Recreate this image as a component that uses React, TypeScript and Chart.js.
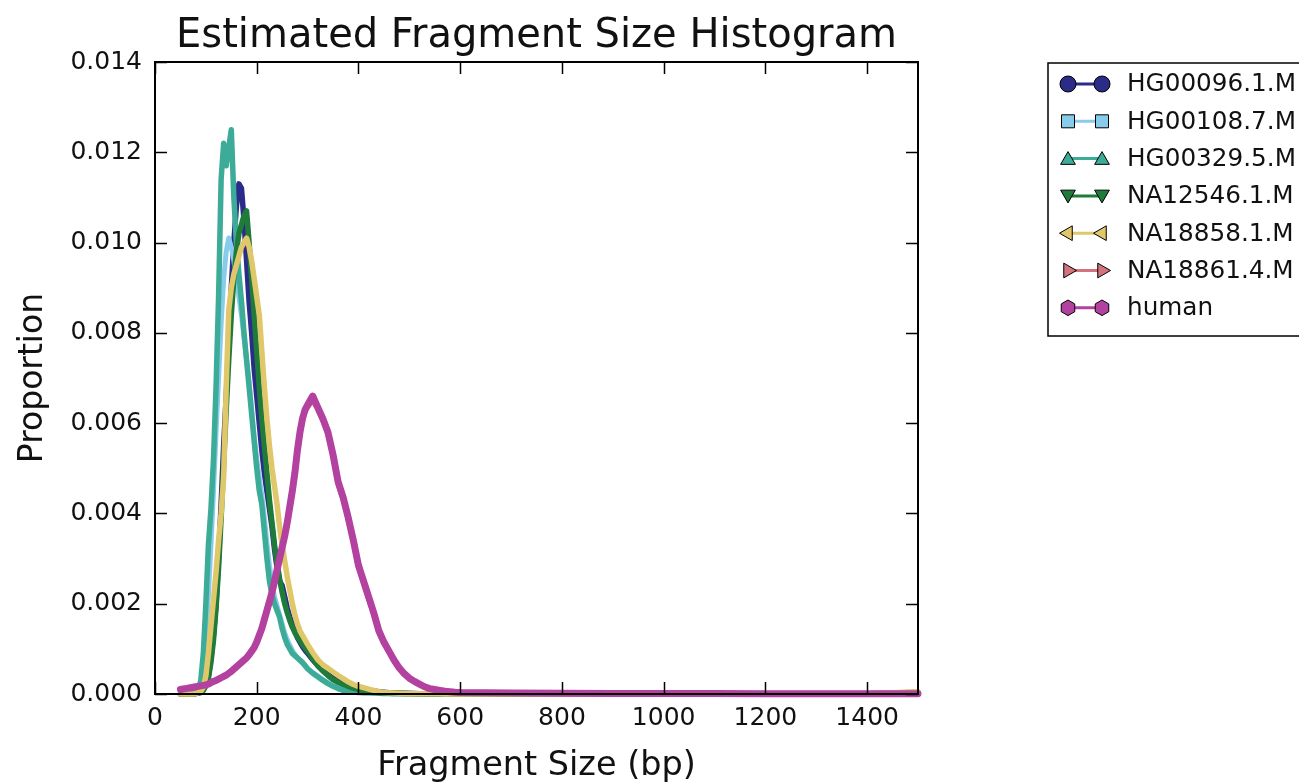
import React, { useEffect, useRef } from 'react';
import { Chart, registerables } from 'chart.js';

Chart.register(...registerables);

// Fragment sizes (bp) at which the histogram curves are sampled
const FRAGMENT_BP = [
  50, 55, 60, 65, 70, 75, 80, 85, 90, 95,
  100, 105, 110, 115, 120, 125, 130, 135, 140, 145,
  150, 155, 160, 165, 170, 175, 180, 185, 190, 195,
  200, 205, 210, 215, 220, 225, 230, 235, 240, 245,
  250, 255, 260, 265, 270, 275, 280, 285, 290, 295,
  300,
  310, 320, 330, 340, 350, 360, 370, 380, 390, 400,
  410, 420, 430, 440, 450, 460, 470, 480, 490, 500,
  510, 520, 530, 540, 550, 560, 570, 580, 590, 600,
  700, 800, 900, 1000, 1100, 1200, 1300, 1400, 1450, 1500,
];

// Proportions, in units of 1e-4
const HG00096_1_M = [
  0, 0, 0, 0, 0, 0, 0.1, 0.2, 0.4, 1,
  2, 4, 8, 13, 20, 30, 42, 55, 66, 78,
  90, 100, 108, 113, 112, 105, 96, 87, 80, 72,
  66, 60, 54, 49, 45, 41, 37, 32, 28, 25,
  24, 21.5, 19, 17, 15.5, 14, 12.5, 11.5, 10.5, 9.7,
  9,
  7.6, 6.3, 5.2, 4.3, 3.5, 2.8, 2.3, 1.8, 1.5, 1.2,
  1, 0.8, 0.65, 0.5, 0.4, 0.3, 0.25, 0.2, 0.15, 0.12,
  0.1, 0.08, 0.07, 0.06, 0.05, 0.04, 0.03, 0.03, 0.02, 0.02,
  0.01, 0.01, 0, 0, 0, 0, 0, 0, 0, 0,
];

const HG00108_7_M = [
  0, 0, 0, 0, 0.1, 0.2, 0.3, 0.6, 1.5, 5,
  12, 22, 33, 45, 58, 70, 82, 92, 98, 101,
  99, 96, 92, 88, 84, 79, 74, 69, 63, 57,
  52, 48, 44, 39, 33.5, 28.5, 24.5, 21.5, 19.5, 17.5,
  15.5, 13.5, 12, 10.8, 9.7, 8.8, 8, 7.4, 6.8, 6.2,
  5.6,
  4.8, 4, 3.2, 2.5, 1.9, 1.4, 1, 0.7, 0.5, 0.4,
  0.3, 0.25, 0.2, 0.15, 0.12, 0.1, 0.08, 0.06, 0.05, 0.04,
  0.03, 0.03, 0.02, 0.02, 0.02, 0.02, 0.01, 0.01, 0.01, 0.01,
  0.01, 0, 0, 0, 0, 0, 0, 0, 0, 0,
];

const HG00329_5_M = [
  0, 0, 0, 0, 0.1, 0.2, 0.4, 1, 3, 9,
  20, 33, 41, 52, 68, 88, 114, 122, 117, 121,
  125, 110, 100, 93, 87, 80, 74, 68, 62, 56,
  50, 45, 42, 36, 30, 25, 22, 20, 18.5, 17,
  14.5, 12.5, 11, 10, 9, 8.5, 8, 7.5, 7, 6.3,
  5.6,
  4.6, 3.8, 3, 2.3, 1.7, 1.2, 0.8, 0.6, 0.45, 0.35,
  0.3, 0.25, 0.2, 0.15, 0.12, 0.1, 0.08, 0.06, 0.05, 0.04,
  0.03, 0.03, 0.02, 0.02, 0.02, 0.02, 0.01, 0.01, 0.01, 0.01,
  0.01, 0, 0, 0, 0, 0, 0, 0, 0, 0,
];

const NA12546_1_M = [
  0, 0, 0, 0, 0, 0, 0.1, 0.2, 0.3, 0.8,
  1.8, 3.5, 7, 12, 19, 28, 39, 51, 63, 74,
  84, 92, 98, 102, 104, 106, 107, 100, 92, 84,
  76, 68, 61, 55, 49, 43, 38, 33, 29, 25.5,
  22.5, 20, 18, 16.3, 14.8, 13.6, 12.6, 11.8, 11, 10.2,
  9.5,
  7.8, 6.3, 5.1, 4.1, 3.2, 2.6, 2.1, 1.7, 1.3, 1,
  0.75, 0.6, 0.45, 0.35, 0.3, 0.25, 0.2, 0.15, 0.12, 0.1,
  0.08, 0.07, 0.06, 0.05, 0.04, 0.03, 0.03, 0.02, 0.02, 0.02,
  0.01, 0.01, 0.01, 0, 0, 0, 0, 0.05, 0.2, 0.4,
];

const NA18858_1_M = [
  0, 0, 0, 0, 0, 0, 0.1, 0.3, 0.6, 1.5,
  4, 9, 15, 21, 27, 34, 40, 48, 68, 85,
  90, 93, 95, 97, 99, 100, 101, 99, 96, 92,
  88, 84, 76, 68, 61, 55, 50, 46, 42, 37,
  33, 29.5, 26, 23, 20, 17.5, 15.5, 14, 13, 12,
  11,
  9.2, 7.6, 6.5, 5.7, 4.9, 4.1, 3.4, 2.7, 2.1, 1.7,
  1.4, 1.1, 0.8, 0.5, 0.35, 0.25, 0.2, 0.15, 0.1, 0.08,
  0.06, 0.05, 0.04, 0.04, 0.03, 0.03, 0.02, 0.02, 0.02, 0.02,
  0.01, 0.01, 0.01, 0.01, 0.01, 0, 0, 0.05, 0.3, 0.5,
];

const NA18861_4_M = [
  0.9, 1, 1.1, 1.2, 1.3, 1.4, 1.5, 1.6, 1.7, 1.8,
  1.9, 2.1, 2.4, 2.7, 2.9, 3.2, 3.5, 3.8, 4.1, 4.5,
  4.9, 5.4, 5.9, 6.4, 6.9, 7.4, 7.9, 8.6, 9.4, 10.2,
  11.3, 12.8, 14.3, 16.3, 18.3, 20.3, 22.3, 24.7, 27.2, 29.7,
  32.2, 34.7, 37.6, 41, 44.5, 48.4, 53.5, 57.5, 60.5, 62.5,
  63.5,
  65, 63, 60.5, 57.5, 52.5, 46.5, 43, 38.5, 33.5, 28,
  24.5, 21, 17.6, 13.8, 11.2, 9.3, 7.3, 5.6, 4.4, 3.4,
  2.7, 2.1, 1.5, 1.1, 0.9, 0.7, 0.55, 0.45, 0.35, 0.3,
  0.18, 0.13, 0.1, 0.09, 0.08, 0.07, 0.07, 0.06, 0.05, 0.04,
];

const HUMAN = [
  1, 1.1, 1.2, 1.3, 1.4, 1.5, 1.6, 1.7, 1.8, 1.9,
  2, 2.2, 2.5, 2.8, 3, 3.3, 3.6, 3.9, 4.2, 4.6,
  5, 5.5, 6, 6.5, 7, 7.5, 8, 8.7, 9.5, 10.3,
  11.5, 13, 14.5, 16.5, 18.5, 20.5, 22.5, 25, 27.5, 30,
  32.5, 35, 38, 41.5, 45, 49, 54, 58, 61, 63,
  64,
  66, 63.5, 61, 58, 53, 47, 43.5, 39, 34, 28.5,
  25, 21.5, 18, 14, 11.5, 9.5, 7.5, 5.8, 4.5, 3.5,
  2.8, 2.2, 1.6, 1.2, 1, 0.8, 0.6, 0.5, 0.4, 0.35,
  0.2, 0.15, 0.12, 0.1, 0.1, 0.08, 0.08, 0.07, 0.06, 0.05,
];

const SERIES_LABELS = ['HG00096.1.M', 'HG00108.7.M', 'HG00329.5.M', 'NA12546.1.M', 'NA18858.1.M', 'NA18861.4.M', 'human'];
const SERIES_VALUES = [HG00096_1_M, HG00108_7_M, HG00329_5_M, NA12546_1_M, NA18858_1_M, NA18861_4_M, HUMAN];
const SERIES_COLORS = ['#2b2b8a', '#87cdeb', '#3cac98', '#1e7b3a', '#e0c76a', '#d3737e', '#b3419f'];
const SERIES_MARKERS = ['circle', 'square', 'triUp', 'triDown', 'triLeft', 'triRight', 'hexagon'];
const SERIES_WIDTHS = [5.5, 5, 5.5, 5.5, 5.5, 5, 7];

const X_TICKS = [0, 200, 400, 600, 800, 1000, 1200, 1400];
const Y_TICKS = [0, 0.002, 0.004, 0.006, 0.008, 0.01, 0.012, 0.014];

const TITLE = 'Estimated Fragment Size Histogram';
const X_LABEL = 'Fragment Size (bp)';
const Y_LABEL = 'Proportion';

const FONT = '"DejaVu Sans", sans-serif';

function drawMarker(ctx: CanvasRenderingContext2D, kind: string, x: number, y: number, color: string) {
  ctx.save();
  ctx.fillStyle = color;
  ctx.strokeStyle = '#000';
  ctx.lineWidth = 1;
  ctx.beginPath();
  const r = 8;
  if (kind === 'circle') {
    ctx.arc(x, y, r, 0, Math.PI * 2);
  } else if (kind === 'square') {
    ctx.rect(x - 6.5, y - 6.5, 13, 13);
  } else if (kind === 'hexagon') {
    for (let i = 0; i < 6; i++) {
      const a = Math.PI / 2 + (i * Math.PI) / 3;
      const px = x + 7.8 * Math.cos(a);
      const py = y - 7.8 * Math.sin(a);
      if (i === 0) ctx.moveTo(px, py); else ctx.lineTo(px, py);
    }
    ctx.closePath();
  } else {
    let rot = 0;
    if (kind === 'triDown') rot = Math.PI;
    if (kind === 'triLeft') rot = Math.PI / 2;
    if (kind === 'triRight') rot = -Math.PI / 2;
    for (let i = 0; i < 3; i++) {
      const a = Math.PI / 2 + rot + (i * 2 * Math.PI) / 3;
      const px = x + 8.5 * Math.cos(a);
      const py = y - 8.5 * Math.sin(a) + (kind === 'triUp' ? 1.5 : kind === 'triDown' ? -1.5 : 0);
      if (i === 0) ctx.moveTo(px, py); else ctx.lineTo(px, py);
    }
    ctx.closePath();
  }
  ctx.fill();
  ctx.stroke();
  ctx.restore();
}

const decorPlugin = {
  id: 'decor',
  afterDatasetsDraw(chart: any) {
    const { ctx, chartArea: a, scales } = chart;
    ctx.save();
    // frame
    ctx.strokeStyle = '#000';
    ctx.lineWidth = 2;
    ctx.strokeRect(a.left, a.top, a.right - a.left, a.bottom - a.top);
    // inward ticks on all sides
    ctx.lineWidth = 1.5;
    const tl = 12;
    ctx.beginPath();
    X_TICKS.forEach((v) => {
      const x = Math.round(scales.x.getPixelForValue(v)) + 0.5;
      ctx.moveTo(x, a.bottom); ctx.lineTo(x, a.bottom - tl);
      ctx.moveTo(x, a.top); ctx.lineTo(x, a.top + tl);
    });
    Y_TICKS.forEach((v) => {
      const y = Math.round(scales.y.getPixelForValue(v)) + 0.5;
      ctx.moveTo(a.left, y); ctx.lineTo(a.left + tl, y);
      ctx.moveTo(a.right, y); ctx.lineTo(a.right - tl, y);
    });
    ctx.stroke();

    // title and axis labels
    ctx.fillStyle = '#111';
    ctx.textAlign = 'center';
    ctx.textBaseline = 'alphabetic';
    ctx.font = `40px ${FONT}`;
    ctx.fillText(TITLE, (a.left + a.right) / 2, 47);
    ctx.font = `33.5px ${FONT}`;
    ctx.fillText(X_LABEL, (a.left + a.right) / 2, 775);
    ctx.font = `33px ${FONT}`;
    ctx.save();
    ctx.translate(42, (a.top + a.bottom) / 2);
    ctx.rotate(-Math.PI / 2);
    ctx.fillText(Y_LABEL, 0, 0);
    ctx.restore();

    // legend
    const lx = 1048, ly = 63, lw = 270, lh = 273;
    ctx.fillStyle = '#fff';
    ctx.fillRect(lx, ly, lw, lh);
    ctx.strokeStyle = '#000';
    ctx.lineWidth = 1.5;
    ctx.strokeRect(lx, ly, lw, lh);
    ctx.font = `24.7px ${FONT}`;
    ctx.textAlign = 'left';
    ctx.textBaseline = 'middle';
    SERIES_LABELS.forEach((label, i) => {
      const y = 84 + i * 37.3;
      ctx.strokeStyle = SERIES_COLORS[i];
      ctx.lineWidth = 3;
      ctx.beginPath();
      ctx.moveTo(1068, y); ctx.lineTo(1102, y);
      ctx.stroke();
      drawMarker(ctx, SERIES_MARKERS[i], 1068, y, SERIES_COLORS[i]);
      drawMarker(ctx, SERIES_MARKERS[i], 1102, y, SERIES_COLORS[i]);
      ctx.fillStyle = '#111';
      ctx.fillText(label, 1127, y + 1);
    });
    ctx.restore();
  },
};

export default function App() {
  const ref = useRef<HTMLCanvasElement | null>(null);

  useEffect(() => {
    document.body.style.margin = '0';
    const canvas = ref.current;
    if (!canvas) return;
    const datasets = SERIES_LABELS.map((label, i) => ({
      label,
      data: FRAGMENT_BP.map((x, j) => ({ x, y: SERIES_VALUES[i][j] * 1e-4 })),
      borderColor: SERIES_COLORS[i],
      backgroundColor: SERIES_COLORS[i],
      borderWidth: SERIES_WIDTHS[i],
      pointRadius: 0,
      tension: 0,
      fill: false,
      clip: false as any,
      borderJoinStyle: 'round' as const,
      borderCapStyle: 'round' as const,
      order: 6 - i,
    }));
    const chart = new Chart(canvas, {
      type: 'line',
      data: { datasets },
      options: {
        animation: false,
        responsive: false,
        devicePixelRatio: 1,
        layout: { padding: { left: 0, top: 62, right: 381, bottom: 0 } },
        plugins: {
          legend: { display: false },
          title: { display: false },
          tooltip: { enabled: false },
        },
        scales: {
          x: {
            type: 'linear',
            min: 0,
            max: 1500,
            grid: { display: false, drawTicks: false },
            border: { display: false },
            ticks: {
              font: { family: FONT, size: 25 },
              color: '#111',
              padding: 9,
              maxRotation: 0,
              autoSkip: false,
              callback: (v: any) => String(v),
            },
            afterBuildTicks: (s: any) => {
              s.ticks = X_TICKS.map((value) => ({ value }));
            },
            afterFit: (s: any) => {
              s.height = 88;
            },
          },
          y: {
            type: 'linear',
            min: 0,
            max: 0.014,
            grid: { display: false, drawTicks: false },
            border: { display: false },
            ticks: {
              font: { family: FONT, size: 25 },
              color: '#111',
              padding: 13,
              autoSkip: false,
              callback: (v: any) => Number(v).toFixed(3),
            },
            afterBuildTicks: (s: any) => {
              s.ticks = Y_TICKS.map((value) => ({ value }));
            },
            afterFit: (s: any) => {
              s.width = 155;
            },
          },
        },
      },
      plugins: [decorPlugin],
    });
    return () => chart.destroy();
  }, []);

  return (
    <div style={{ position: 'absolute', left: 0, top: 0, width: 1299, height: 782, background: '#fff' }}>
      <canvas ref={ref} width={1299} height={782} style={{ display: 'block' }} />
    </div>
  );
}
